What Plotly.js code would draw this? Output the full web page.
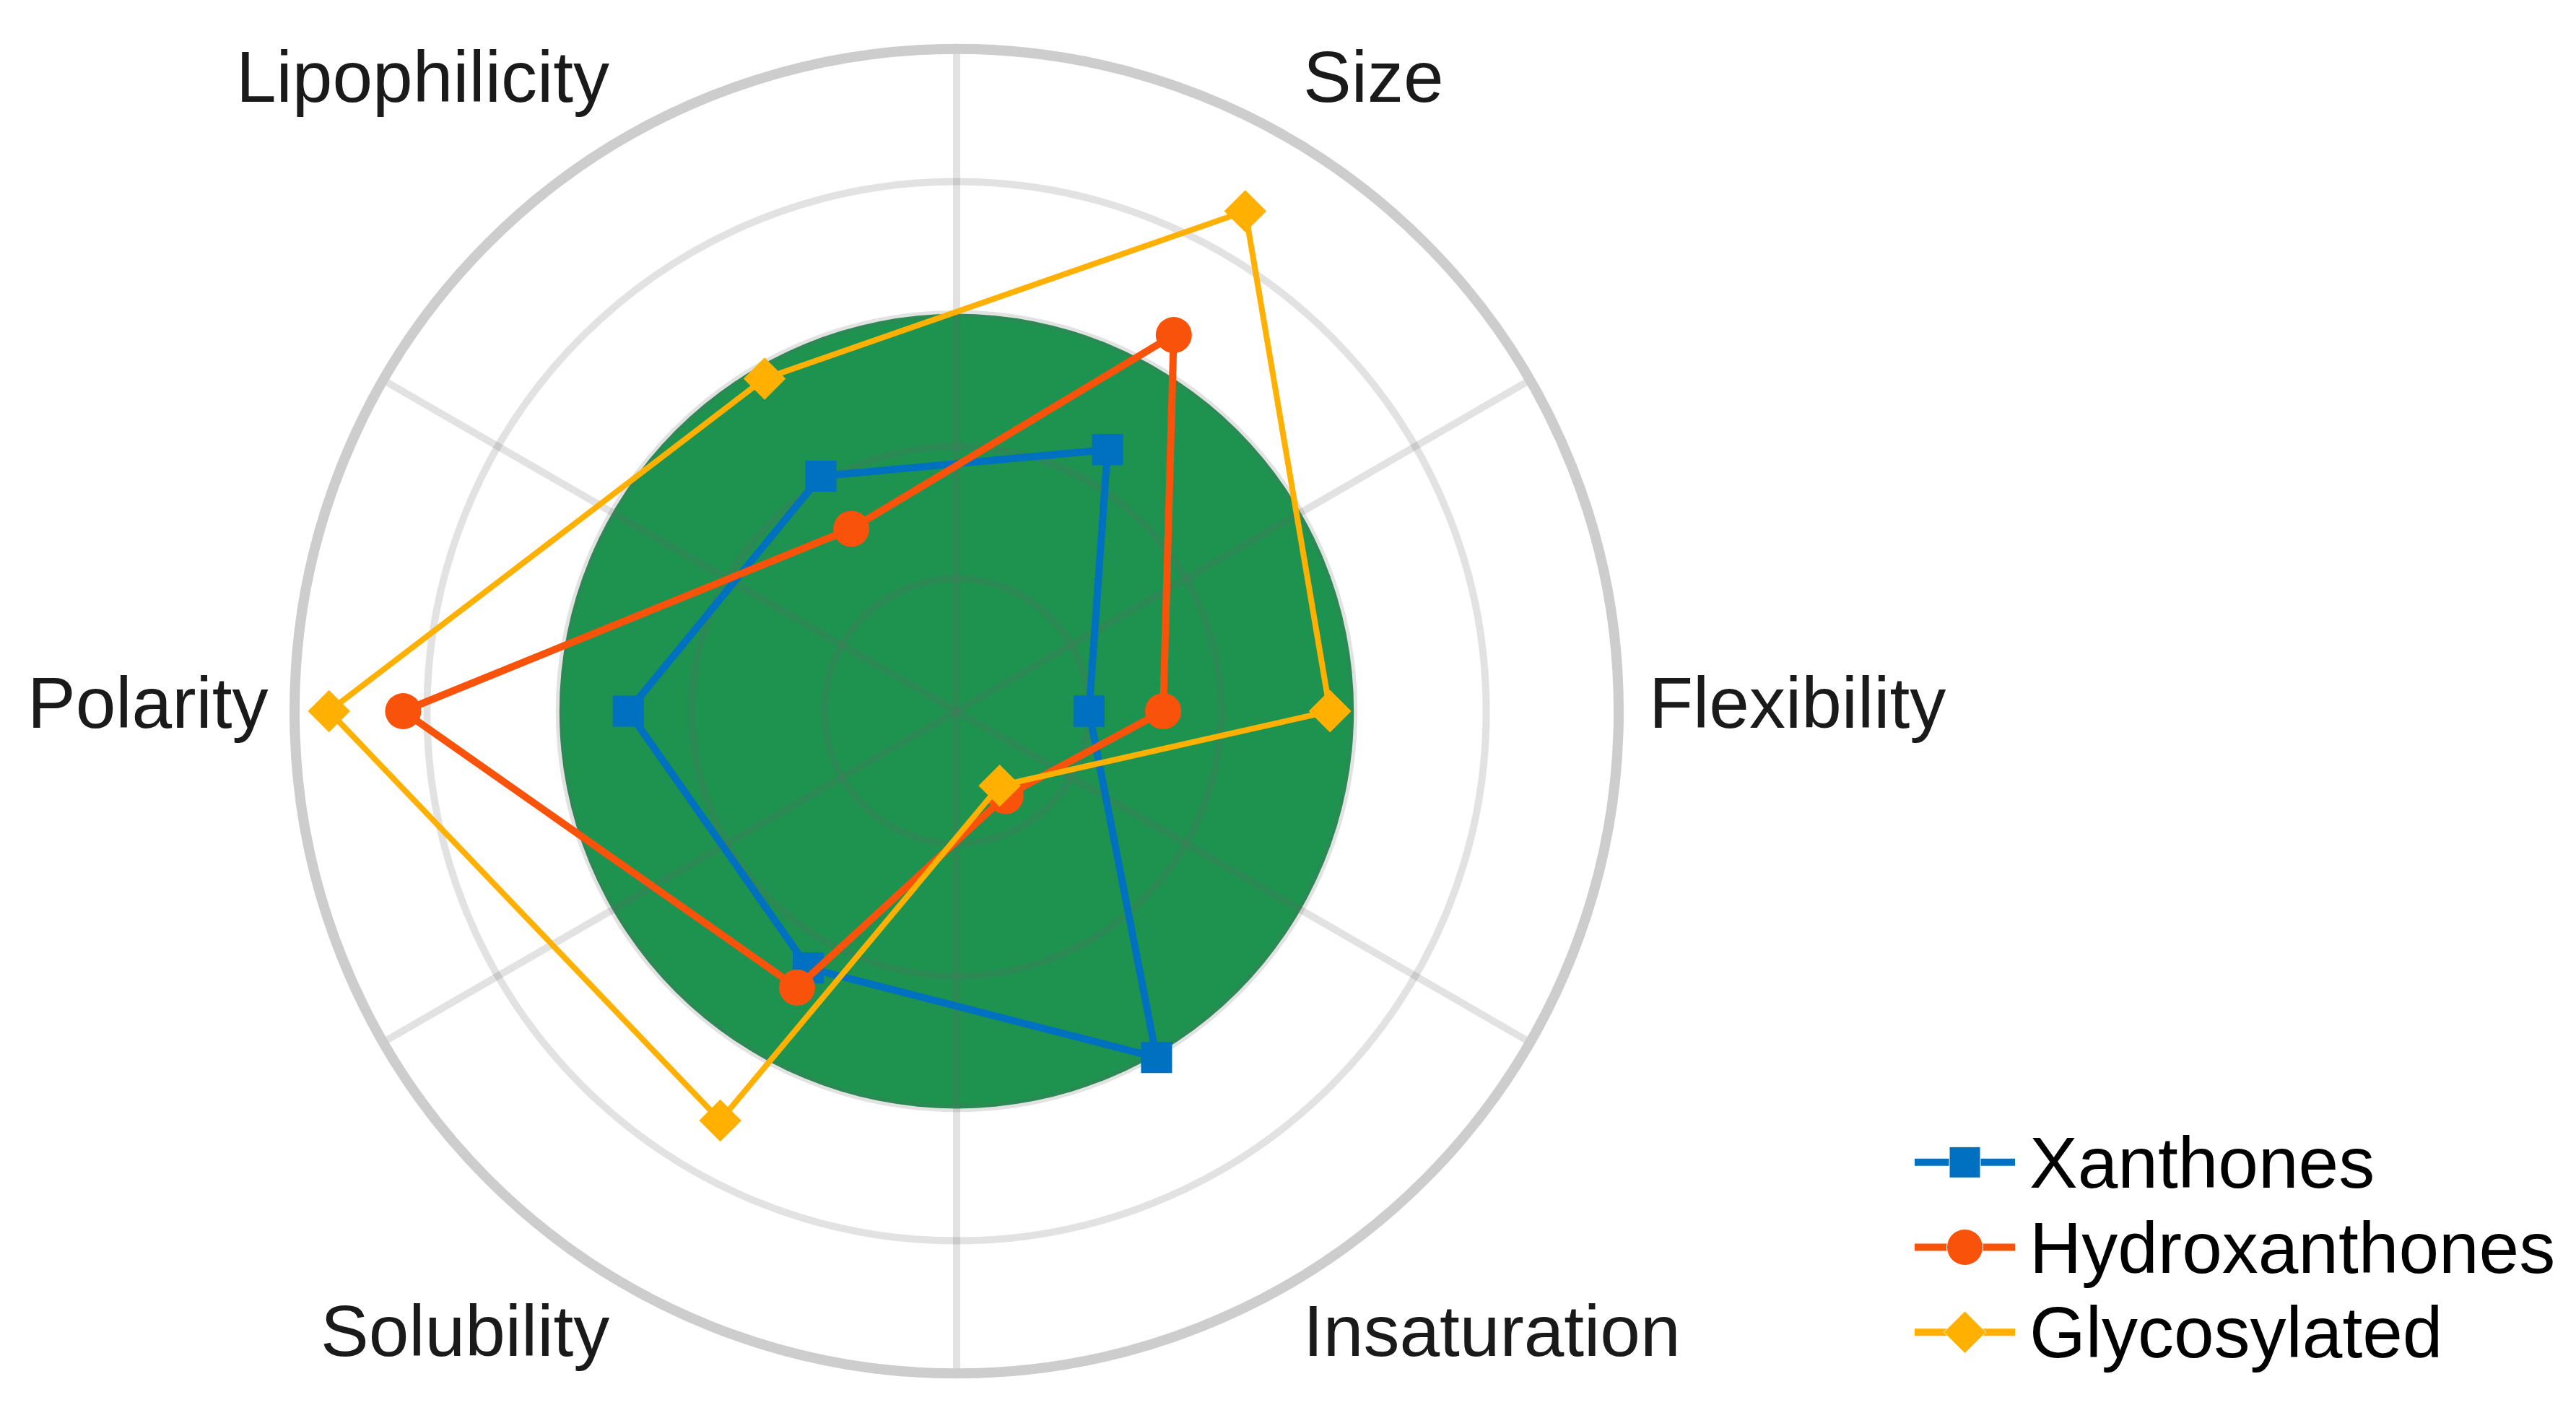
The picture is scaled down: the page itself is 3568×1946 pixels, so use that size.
<!DOCTYPE html>
<html>
<head>
<meta charset="utf-8">
<script src="https://cdn.plot.ly/plotly-3.0.1.min.js"></script>
<style>
  html, body { margin: 0; padding: 0; background: #fff; }
  #chart { width: 3568px; height: 1946px; }
</style>
</head>
<body>
<div id="chart"></div>
<script>
// bioavailability radar (scale 0..5)
var properties = ['Flexibility', 'Size', 'Lipophilicity', 'Polarity', 'Solubility', 'Insaturation'];
var seriesNames = ['Xanthones', 'Hydroxanthones', 'Glycosylated'];
var xanthones = [1.00, 2.28, 2.05, 2.48, 2.24, 3.02];
var hydroxanthones = [1.56, 3.28, 1.59, 4.18, 2.41, 0.74];
var glycosylated = [2.82, 4.36, 2.90, 4.74, 3.57, 0.65];
var optimalZone = 3;
var ringValues = [1, 2, 3, 4];
var spokeAngles = [30, 90, 150, 210, 270, 330];

var W = 3568, H = 1946;
var font = '"Liberation Sans", Arial, Helvetica, sans-serif';
var colors = ['#0070C0', '#F9520B', '#FFB000'];
var symbols = ['square', 'circle', 'diamond'];
var msizes = [43, 50, 45];
var lwidths = [10, 10, 8];
var allSeries = [xanthones, hydroxanthones, glycosylated];

// same square domain for all three polar layers
var dom = { x: [408 / W, 2242 / W], y: [1 - 1902 / H, 1 - 68 / H] };
var gridCol = 'rgba(100,100,100,0.19)';

var traces = [];

// green optimal disc (bottom layer)
traces.push({
  type: 'barpolar', subplot: 'polar',
  r: [optimalZone], theta: [0], width: [360],
  marker: { color: '#1E9350', line: { width: 0 } },
  hoverinfo: 'skip', showlegend: false
});

// dummy so the grid layer exists
traces.push({
  type: 'scatterpolar', subplot: 'polar2',
  r: [0], theta: [0], mode: 'markers',
  marker: { opacity: 0 }, hoverinfo: 'skip', showlegend: false
});

// the three series (closed polygons)
for (var i = 0; i < allSeries.length; i++) {
  traces.push({
    type: 'scatterpolar', subplot: 'polar3',
    name: seriesNames[i],
    r: allSeries[i].concat([allSeries[i][0]]),
    theta: properties.concat([properties[0]]),
    mode: 'lines+markers',
    line: { color: colors[i], width: lwidths[i] },
    marker: { symbol: symbols[i], size: msizes[i], color: colors[i], opacity: 1 },
    showlegend: false
  });
}

// custom legend (plotly caps legend symbols at 16px)
var annotations = [];
for (var i = 0; i < seriesNames.length; i++) {
  traces.push({
    type: 'scatter', xaxis: 'x', yaxis: 'y',
    x: [0, 0.5, 1], y: [i, i, i],
    mode: 'lines+markers',
    line: { color: colors[i], width: 10 },
    marker: { symbol: symbols[i], size: [0, msizes[i], 0], color: colors[i], opacity: 1 },
    hoverinfo: 'skip', showlegend: false
  });
  annotations.push({
    xref: 'x', yref: 'y', x: 1, y: i, xanchor: 'left', yanchor: 'middle',
    xshift: 18, showarrow: false, text: seriesNames[i],
    font: { family: font, size: 100, color: '#000' }
  });
}

// axis labels sit at the corners of the figure
var labelPos = {
  'Lipophilicity': { x: 846, y: 106, a: 'right' },
  'Size': { x: 1803, y: 106, a: 'left' },
  'Polarity': { x: 373, y: 973, a: 'right' },
  'Flexibility': { x: 2282, y: 973, a: 'left' },
  'Solubility': { x: 846, y: 1843, a: 'right' },
  'Insaturation': { x: 1803, y: 1843, a: 'left' }
};
properties.forEach(function (p) {
  var lp = labelPos[p];
  annotations.push({
    xref: 'paper', yref: 'paper', x: lp.x / W, y: 1 - lp.y / H,
    xanchor: lp.a, yanchor: 'middle', showarrow: false, text: p,
    font: { family: font, size: 100, color: '#1a1a1a' }
  });
});

var hiddenRadial = { visible: false, range: [0, 5] };

var layout = {
  width: W, height: H, autosize: false,
  margin: { l: 0, r: 0, t: 0, b: 0 },
  paper_bgcolor: '#fff', plot_bgcolor: 'rgba(0,0,0,0)',
  showlegend: false,
  font: { family: font },
  polar: {
    domain: dom, bgcolor: 'rgba(0,0,0,0)',
    radialaxis: hiddenRadial,
    angularaxis: { visible: false, rotation: 0, direction: 'counterclockwise' }
  },
  polar2: {
    domain: dom, bgcolor: 'rgba(0,0,0,0)',
    radialaxis: {
      range: [0, 5], tickvals: ringValues, showticklabels: false, ticks: '',
      showline: false, showgrid: true, gridcolor: gridCol, gridwidth: 10
    },
    angularaxis: {
      type: 'linear', thetaunit: 'degrees', rotation: 0, direction: 'counterclockwise',
      tickvals: spokeAngles, showticklabels: false, ticks: '',
      showgrid: true, gridcolor: gridCol, gridwidth: 10,
      showline: true, linecolor: '#cdcdcd', linewidth: 14
    }
  },
  polar3: {
    domain: dom, bgcolor: 'rgba(0,0,0,0)',
    radialaxis: hiddenRadial,
    angularaxis: {
      visible: false, type: 'category', categoryarray: properties,
      rotation: 0, direction: 'counterclockwise'
    }
  },
  xaxis: { domain: [2652 / W, 2791 / W], range: [0, 1], visible: false, fixedrange: true },
  yaxis: { domain: [1 - 1904 / H, 1 - 1551 / H], range: [2.5, -0.5], visible: false, fixedrange: true },
  annotations: annotations
};

Plotly.newPlot('chart', traces, layout, { displayModeBar: false, staticPlot: true });
</script>
</body>
</html>
